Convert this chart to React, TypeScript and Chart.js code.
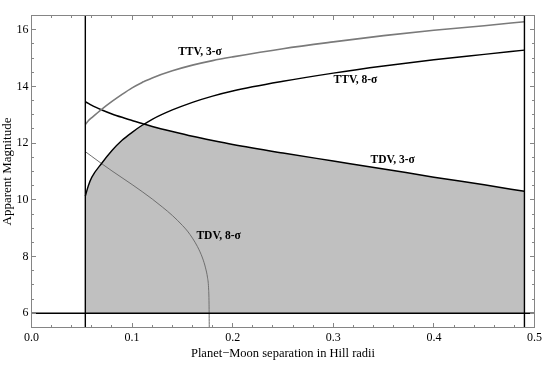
import React, { useEffect, useRef } from 'react';
import { Chart, registerables } from 'chart.js';

Chart.register(...registerables);

// Planet–Moon separation (Hill radii) sample positions shared by three curves
const sepX = [0.0535, 0.0565, 0.06, 0.07, 0.08, 0.09, 0.1, 0.11, 0.1115, 0.12, 0.14, 0.16, 0.18, 0.2, 0.25, 0.3, 0.35, 0.4, 0.45, 0.49];
const ttv3Sigma = [12.66, 12.79, 12.9, 13.2, 13.47, 13.72, 13.95, 14.14, 14.165, 14.3, 14.55, 14.75, 14.91, 15.04, 15.33, 15.57, 15.79, 15.98, 16.14, 16.28];
const ttv8Sigma = [10.13, 10.5, 10.8, 11.3, 11.74, 12.1, 12.38, 12.63, 12.66, 12.84, 13.17, 13.44, 13.66, 13.84, 14.18, 14.47, 14.72, 14.94, 15.13, 15.28];
const tdv3Sigma = [13.46, 13.4, 13.33, 13.17, 13.03, 12.91, 12.8, 12.69, 12.675, 12.59, 12.41, 12.24, 12.09, 11.95, 11.65, 11.37, 11.09, 10.8, 10.53, 10.3];

// TDV 8-sigma curve has its own samples
const tdv8X = [0.0535, 0.06, 0.07, 0.08, 0.09, 0.1, 0.11, 0.12, 0.13, 0.14, 0.15, 0.155, 0.16, 0.165, 0.17, 0.173, 0.175, 0.176, 0.1765, 0.1767];
const tdv8Y = [11.7, 11.53, 11.27, 11.02, 10.78, 10.54, 10.29, 10.03, 9.75, 9.45, 9.1, 8.9, 8.65, 8.35, 7.95, 7.6, 7.25, 6.9, 6.3, 5.5];

// boundaries
const innerBoundsX = [0.0535, 0.49];
const floorMag = 6;
const xRange = [0, 0.5];
const yRange = [5.5, 16.5];

const xTickValues = [0, 0.1, 0.2, 0.3, 0.4, 0.5];
const yTickValues = [6, 8, 10, 12, 14, 16];
const xMinorStep = 0.02;
const yMinorStep = 0.5;

const curveLabelText = ['TTV, 3-σ', 'TTV, 8-σ', 'TDV, 3-σ', 'TDV, 8-σ'];
const curveLabelX = [0.1675, 0.322, 0.359, 0.186];
const curveLabelY = [15.21, 14.24, 11.41, 8.73];

const FONT = "'Liberation Serif', 'Times New Roman', serif";

export default function App() {
  const ref = useRef<HTMLCanvasElement>(null);

  useEffect(() => {
    if (!ref.current) return;
    const pts = (xs: number[], ys: number[]) => xs.map((x, i) => ({ x, y: ys[i] }));
    const envelope = sepX.map((x, i) => ({ x, y: Math.min(ttv8Sigma[i], tdv3Sigma[i]) }));

    const framePlugin = {
      id: 'framePlugin',
      afterDatasetsDraw(chart: any) {
        const { ctx, chartArea: a, scales } = chart;
        const xs = scales.x;
        const ys = scales.y;
        ctx.save();
        // curve labels
        ctx.fillStyle = '#000';
        ctx.font = `bold 11.5px ${FONT}`;
        ctx.textAlign = 'center';
        ctx.textBaseline = 'middle';
        curveLabelText.forEach((t, i) => {
          ctx.fillText(t, xs.getPixelForValue(curveLabelX[i]), ys.getPixelForValue(curveLabelY[i]));
        });
        // frame
        ctx.strokeStyle = '#858585';
        ctx.lineWidth = 1;
        ctx.strokeRect(a.left, a.top, a.right - a.left, a.bottom - a.top);
        ctx.beginPath();
        const xTick = (v: number, len: number) => {
          const p = Math.floor(xs.getPixelForValue(v)) + 0.5;
          ctx.moveTo(p, a.bottom);
          ctx.lineTo(p, a.bottom - len);
          ctx.moveTo(p, a.top);
          ctx.lineTo(p, a.top + len);
        };
        const yTick = (v: number, len: number) => {
          const p = Math.floor(ys.getPixelForValue(v)) + 0.5;
          ctx.moveTo(a.left, p);
          ctx.lineTo(a.left + len, p);
          ctx.moveTo(a.right, p);
          ctx.lineTo(a.right - len, p);
        };
        for (let v = xRange[0]; v <= xRange[1] + 1e-9; v += xMinorStep) xTick(v, 2.5);
        xTickValues.forEach((v) => xTick(v, 4.5));
        for (let v = yRange[0]; v <= yRange[1] + 1e-9; v += yMinorStep) yTick(v, 2.5);
        yTickValues.forEach((v) => yTick(v, 4.5));
        ctx.stroke();
        ctx.restore();
      },
    };

    const chart = new Chart(ref.current, {
      type: 'line',
      data: {
        datasets: [
          {
            label: 'x = 0.49',
            data: [{ x: innerBoundsX[1], y: yRange[0] }, { x: innerBoundsX[1], y: yRange[1] }],
            borderColor: '#000', borderWidth: 1.4, pointRadius: 0, fill: false, clip: 0,
          },
          {
            label: 'x = 0.0535',
            data: [{ x: innerBoundsX[0], y: yRange[0] }, { x: innerBoundsX[0], y: yRange[1] }],
            borderColor: '#000', borderWidth: 1.4, pointRadius: 0, fill: false, clip: 0,
          },
          {
            label: 'm = 6',
            data: [{ x: xRange[0], y: floorMag }, { x: xRange[1], y: floorMag }],
            borderColor: '#000', borderWidth: 1.6, pointRadius: 0, fill: false, clip: 0,
          },
          {
            label: 'TTV 3-sigma',
            data: pts(sepX, ttv3Sigma),
            borderColor: '#7a7a7a', borderWidth: 1.6, pointRadius: 0, fill: false,
            cubicInterpolationMode: 'monotone', clip: 0,
          },
          {
            label: 'TTV 8-sigma',
            data: pts(sepX, ttv8Sigma),
            borderColor: '#000', borderWidth: 1.4, pointRadius: 0, fill: false,
            cubicInterpolationMode: 'monotone', clip: 0,
          },
          {
            label: 'TDV 3-sigma',
            data: pts(sepX, tdv3Sigma),
            borderColor: '#000', borderWidth: 1.5, pointRadius: 0, fill: false,
            cubicInterpolationMode: 'monotone', clip: 0,
          },
          {
            label: 'TDV 8-sigma',
            data: pts(tdv8X, tdv8Y),
            borderColor: '#6e6e6e', borderWidth: 1, pointRadius: 0, fill: false,
            cubicInterpolationMode: 'monotone', clip: 0,
          },
          {
            label: 'detectable',
            data: envelope,
            borderWidth: 0, borderColor: 'rgba(0,0,0,0)', backgroundColor: '#c0c0c0',
            pointRadius: 0, fill: { value: floorMag }, tension: 0, clip: 0,
          },
        ] as any,
      },
      options: {
        responsive: false,
        animation: false,
        events: [],
        layout: { padding: { left: 0, right: 10.5, top: 15.5, bottom: 0 } },
        plugins: { legend: { display: false }, tooltip: { enabled: false } },
        scales: {
          x: {
            type: 'linear',
            min: xRange[0],
            max: xRange[1],
            grid: { display: false, drawTicks: false },
            border: { display: false },
            afterBuildTicks: (s: any) => { s.ticks = xTickValues.map((v) => ({ value: v })); },
            afterFit: (s: any) => { s.height = 47.5; },
            ticks: {
              padding: 3, color: '#000', font: { family: FONT, size: 12 },
              maxRotation: 0, autoSkip: false,
              callback: (v: any) => Number(v).toFixed(1),
            },
            title: {
              display: true, text: 'Planet−Moon separation in Hill radii', color: '#000',
              font: { family: FONT, size: 12.5 }, padding: { top: 0, bottom: 13.5 },
            },
          },
          y: {
            type: 'linear',
            min: yRange[0],
            max: yRange[1],
            grid: { display: false, drawTicks: false },
            border: { display: false },
            afterBuildTicks: (s: any) => { s.ticks = yTickValues.map((v) => ({ value: v })); },
            afterFit: (s: any) => { s.width = 31.5; },
            ticks: {
              padding: 3, color: '#000', font: { family: FONT, size: 12 },
              autoSkip: false, callback: (v: any) => String(v),
            },
            title: {
              display: true, text: 'Apparent Magnitude', color: '#000',
              font: { family: FONT, size: 13 }, padding: { top: 0, bottom: 0 },
            },
          },
        },
      } as any,
      plugins: [framePlugin],
    });
    return () => chart.destroy();
  }, []);

  return (
    <div style={{ position: 'fixed', left: 0, top: 0, width: 545, height: 375, background: '#fff' }}>
      <canvas ref={ref} width={545} height={375} />
    </div>
  );
}
